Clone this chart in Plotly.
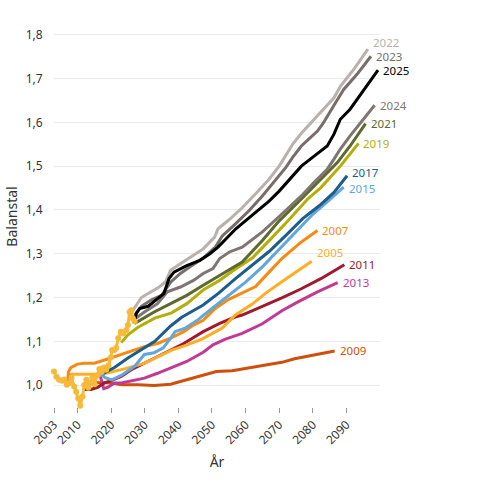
import plotly.graph_objects as go

# ---------------- data ----------------
hist_x = [2003.0, 2003.7, 2004.5, 2005.4, 2006.1, 2006.8, 2007.5, 2008.2, 2009.0, 2009.6,
          2010.2, 2010.8, 2011.5, 2012.0, 2012.6, 2013.2, 2013.9, 2014.4, 2015.1, 2015.8,
          2016.5, 2017.2, 2017.8, 2018.5, 2019.2, 2019.9, 2020.3, 2021.0, 2021.5, 2022.1,
          2022.9, 2023.6, 2024.5, 2025.0, 2025.5, 2026.0, 2026.5, 2027.0]
hist_v = [1.031, 1.019, 1.012, 1.010, 1.013, 1.001, 1.004, 1.016, 0.997, 0.985,
          0.970, 0.953, 0.974, 1.000, 1.012, 0.994, 1.005, 1.017, 1.002, 1.022,
          1.037, 1.030, 1.040, 1.035, 1.045, 1.063, 1.080, 1.080, 1.085, 1.107,
          1.122, 1.118, 1.126, 1.137, 1.167, 1.171, 1.152, 1.145]

s2005_x = [2007.0, 2012.0, 2017.0, 2020.0, 2024.0, 2030.0, 2034.0, 2038.0, 2042.0, 2047.0,
           2053.0, 2057.0, 2062.0, 2066.0, 2070.8, 2075.6, 2079.7]
s2005_v = [1.025, 1.025, 1.025, 1.030, 1.037, 1.050, 1.065, 1.080, 1.090, 1.105,
           1.130, 1.160, 1.185, 1.210, 1.236, 1.262, 1.283]

s2007_x = [2007.0, 2007.3, 2008.0, 2010.0, 2012.0, 2015.0, 2018.3, 2024.1, 2029.9, 2033.8,
           2037.7, 2041.6, 2044.5, 2047.4, 2051.0, 2055.0, 2059.0, 2063.0, 2066.0, 2070.8,
           2076.6, 2081.4]
s2007_v = [1.003, 1.030, 1.040, 1.048, 1.050, 1.050, 1.058, 1.073, 1.088, 1.095,
           1.107, 1.122, 1.137, 1.148, 1.175, 1.196, 1.210, 1.225, 1.250, 1.289,
           1.327, 1.353]

s2009_x = [2013.0, 2016.0, 2020.2, 2023.1, 2028.0, 2032.8, 2037.7, 2042.5, 2047.4, 2051.3,
           2056.0, 2061.0, 2066.9, 2070.8, 2074.6, 2080.4, 2086.5]
s2009_v = [1.008, 1.006, 1.005, 1.001, 1.001, 0.999, 1.002, 1.012, 1.023, 1.031,
           1.033, 1.040, 1.048, 1.052, 1.060, 1.069, 1.078]

s2011_x = [2012.0, 2014.0, 2016.0, 2018.0, 2020.0, 2023.0, 2026.0, 2029.9, 2035.7, 2041.6,
           2047.4, 2052.3, 2057.1, 2059.0, 2065.0, 2070.8, 2076.6, 2082.4, 2089.4]
s2011_v = [0.990, 0.990, 0.995, 1.005, 1.010, 1.020, 1.035, 1.050, 1.073, 1.095,
           1.122, 1.141, 1.156, 1.160, 1.180, 1.199, 1.220, 1.243, 1.275]

s2013_x = [2016.8, 2017.8, 2019.0, 2021.0, 2023.0, 2025.0, 2028.0, 2029.9, 2033.8, 2037.7,
           2042.5, 2047.4, 2050.3, 2054.0, 2059.0, 2065.0, 2070.8, 2075.6, 2081.4, 2087.4]
s2013_v = [1.020, 0.992, 0.995, 1.005, 1.005, 1.008, 1.012, 1.016, 1.027, 1.039,
           1.054, 1.075, 1.092, 1.105, 1.118, 1.140, 1.170, 1.190, 1.213, 1.234]

s2015_x = [2016.8, 2018.2, 2020.2, 2023.0, 2027.0, 2029.9, 2032.8, 2035.5, 2037.7, 2039.0,
           2042.0, 2046.0, 2050.0, 2055.0, 2060.0, 2065.0, 2070.0, 2075.0, 2080.0, 2085.3,
           2089.2]
s2015_v = [1.027, 1.017, 1.012, 1.022, 1.043, 1.070, 1.074, 1.085, 1.107, 1.122,
           1.130, 1.150, 1.175, 1.205, 1.235, 1.270, 1.310, 1.350, 1.390, 1.425,
           1.452]

s2017_x = [2017.3, 2021.0, 2025.0, 2030.0, 2033.0, 2037.7, 2041.0, 2047.4, 2052.0, 2057.0,
           2062.0, 2067.0, 2072.0, 2077.0, 2082.0, 2086.3, 2090.2]
s2017_v = [1.025, 1.040, 1.062, 1.085, 1.100, 1.135, 1.155, 1.183, 1.210, 1.243,
           1.275, 1.305, 1.342, 1.380, 1.410, 1.440, 1.478]

s2019_x = [2023.0, 2025.0, 2028.0, 2033.0, 2038.0, 2042.5, 2047.4, 2052.0, 2057.0, 2062.0,
           2067.0, 2072.0, 2078.5, 2082.4, 2088.2, 2093.6]
s2019_v = [1.097, 1.115, 1.132, 1.153, 1.165, 1.186, 1.217, 1.238, 1.265, 1.290,
           1.330, 1.370, 1.425, 1.451, 1.500, 1.552]

s2021_x = [2027.0, 2032.8, 2037.7, 2042.5, 2047.4, 2052.3, 2059.0, 2065.0, 2070.0, 2076.6,
           2082.4, 2087.3, 2091.1, 2095.7]
s2021_v = [1.141, 1.167, 1.186, 1.205, 1.228, 1.251, 1.281, 1.330, 1.375, 1.425,
           1.470, 1.508, 1.546, 1.597]

s2022_x = [2026.5, 2027.5, 2029.0, 2031.9, 2034.3, 2036.2, 2037.7, 2040.6, 2043.5, 2047.4,
           2050.8, 2051.8, 2055.0, 2059.0, 2063.0, 2067.0, 2070.0, 2072.0, 2074.0, 2076.6,
           2080.4, 2083.8, 2086.3, 2088.2, 2092.1, 2096.4]
s2022_v = [1.171, 1.183, 1.200, 1.213, 1.224, 1.236, 1.262, 1.277, 1.292, 1.311,
           1.338, 1.357, 1.377, 1.405, 1.437, 1.470, 1.500, 1.525, 1.550, 1.575,
           1.607, 1.637, 1.656, 1.682, 1.720, 1.767]

s2023_x = [2027.0, 2029.0, 2032.0, 2035.0, 2037.7, 2040.6, 2043.5, 2047.4, 2051.0, 2053.0,
           2057.0, 2061.0, 2065.0, 2069.0, 2072.0, 2074.0, 2076.6, 2081.4, 2083.0, 2086.0,
           2089.2, 2093.1, 2097.3]
s2023_v = [1.160, 1.180, 1.195, 1.205, 1.235, 1.255, 1.270, 1.290, 1.315, 1.340,
           1.368, 1.398, 1.432, 1.468, 1.497, 1.520, 1.546, 1.580, 1.597, 1.635,
           1.675, 1.709, 1.751]

s2024_x = [2026.5, 2029.9, 2033.8, 2036.7, 2040.6, 2044.5, 2047.4, 2050.3, 2052.3, 2055.2,
           2059.0, 2065.0, 2070.0, 2076.6, 2080.4, 2084.3, 2086.3, 2088.2, 2091.1, 2095.0,
           2098.4]
s2024_v = [1.148, 1.167, 1.186, 1.213, 1.224, 1.239, 1.255, 1.266, 1.289, 1.304,
           1.315, 1.350, 1.385, 1.432, 1.463, 1.493, 1.516, 1.539, 1.569, 1.607,
           1.639]

s2025_x = [2027.0, 2027.5, 2028.5, 2031.0, 2035.7, 2037.2, 2038.7, 2042.5, 2046.4, 2049.4,
           2051.8, 2055.2, 2057.1, 2062.0, 2067.0, 2070.0, 2073.0, 2076.6, 2080.4, 2084.3,
           2086.3, 2088.2, 2091.1, 2095.0, 2099.4]
s2025_v = [1.148, 1.164, 1.175, 1.180, 1.209, 1.243, 1.258, 1.273, 1.285, 1.300,
           1.315, 1.342, 1.357, 1.388, 1.420, 1.443, 1.468, 1.500, 1.523, 1.546,
           1.573, 1.607, 1.630, 1.671, 1.719]

labels = ["2009", "2013", "2011", "2005", "2007", "2015", "2017", "2019", "2021", "2024",
          "2023", "2022", "2025"]
x_ticks = [2003, 2010, 2020, 2030, 2040, 2050, 2060, 2070, 2080, 2090]
y_ticks = [1.0, 1.1, 1.2, 1.3, 1.4, 1.5, 1.6, 1.7, 1.8]

# ---------------- styling ----------------
series = {
    "2009": (s2009_x, s2009_v, "#CF4F0C", 0),
    "2013": (s2013_x, s2013_v, "#C03B93", 0),
    "2011": (s2011_x, s2011_v, "#A0192F", 0),
    "2005": (s2005_x, s2005_v, "#FFAE25", 9),
    "2007": (s2007_x, s2007_v, "#F58B14", 0),
    "2015": (s2015_x, s2015_v, "#62A6DE", -1),
    "2017": (s2017_x, s2017_v, "#1D5C8C", 3),
    "2019": (s2019_x, s2019_v, "#B3AE0A", 0),
    "2021": (s2021_x, s2021_v, "#5D6A2C", 0),
    "2024": (s2024_x, s2024_v, "#7F7573", 0),
    "2023": (s2023_x, s2023_v, "#776D6A", 0),
    "2022": (s2022_x, s2022_v, "#BAB1AC", 7),
    "2025": (s2025_x, s2025_v, "#000000", 0),
}

FONT = "Noto Sans"
fig = go.Figure()
annotations = []
for name in labels:
    xs, vs, col, yshift = series[name]
    fig.add_trace(go.Scatter(x=xs, y=vs, mode="lines", name=name,
                             line=dict(color=col, width=3), hoverinfo="skip"))
    annotations.append(dict(x=xs[-1], y=vs[-1], text=name, showarrow=False,
                            xanchor="left", yanchor="middle", xshift=3, yshift=yshift,
                            font=dict(family=FONT, size=11.5, color=col)))

fig.add_trace(go.Scatter(x=hist_x, y=hist_v, mode="lines+markers", name="Utfall",
                         line=dict(color="#F6B93B", width=3),
                         marker=dict(color="#F6B93B", size=6), cliponaxis=False,
                         hoverinfo="skip"))

fig.update_layout(
    width=480, height=480,
    margin=dict(l=48, r=100, t=26, b=71),
    plot_bgcolor="white", paper_bgcolor="white",
    showlegend=False,
    separators=", ",
    font=dict(family=FONT, size=12, color="#333333"),
    annotations=annotations,
)
fig.update_xaxes(range=[2003, 2100], tickvals=x_ticks, ticktext=[str(t) for t in x_ticks],
                 tickangle=-45, ticks="outside", ticklen=5, tickcolor="#999999",
                 showgrid=False, zeroline=False, showline=False,
                 tickfont=dict(family=FONT, size=12, color="#333333"),
                 title=dict(text="År", font=dict(family=FONT, size=14, color="#333333"),
                            standoff=10))
fig.update_yaxes(range=[0.95, 1.82], tickvals=y_ticks, tickformat=".1f",
                 showgrid=True, gridcolor="#EBEBEB", gridwidth=1, zeroline=False,
                 showline=False, ticks="outside", ticklen=8, tickcolor="rgba(0,0,0,0)",
                 tickfont=dict(family=FONT, size=12, color="#333333"),
                 title=dict(text="Balanstal", font=dict(family=FONT, size=14, color="#333333"),
                            standoff=4))

fig.write_html("out.html")
